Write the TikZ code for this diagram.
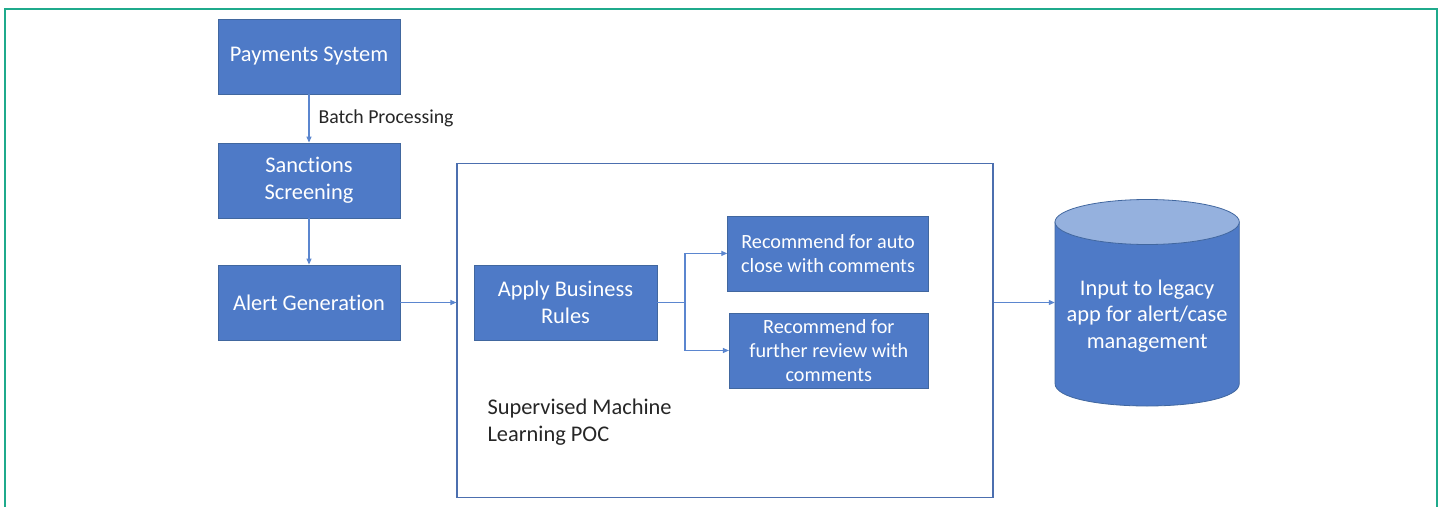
\documentclass[tikz,border=0pt]{standalone}
\usepackage{fontspec}
\setmainfont{Carlito}[Ligatures={NoCommon,NoContextual}, Contextuals=NoAlternate]
\usetikzlibrary{arrows.meta}
\definecolor{boxblue}{HTML}{4E7AC7}
\definecolor{boxedge}{HTML}{41679F}
\definecolor{toplight}{HTML}{95B1DE}
\definecolor{linkblue}{HTML}{5B86CF}
\definecolor{framegreen}{HTML}{1FAA8C}
\definecolor{pocedge}{HTML}{4C6FAF}
\definecolor{labeltext}{HTML}{262626}
\begin{document}
\begin{tikzpicture}[x=1pt,y=-1pt,
  bluebox/.style={draw=boxedge, line width=0.8pt, fill=boxblue, text=white, inner sep=0pt,
    align=center, minimum height=75pt, font=\fontsize{22.4}{27}\selectfont},
  smallbox/.style={bluebox, font=\fontsize{20.2}{24.3}\selectfont},
  link/.style={draw=linkblue, line width=1.1pt, -{Triangle[length=6pt,width=5pt]}},
  plaintext/.style={inner sep=0pt, text=labeltext},
]
\useasboundingbox (0,0) rectangle (1442,506);
% outer frame (open at the bottom)
\draw[framegreen, line width=2pt] (4.5,520) -- (4.5,8.5) -- (1437,8.5) -- (1437,520);

% POC container
\node[draw=pocedge, line width=1.2pt, minimum width=536pt, minimum height=334pt, inner sep=0pt] (poc) at (725,330.3) {};
\node[plaintext, anchor=west, align=left, font=\fontsize{22.4}{27.7}\selectfont] (poclabel) at (487.3,422) {Supervised Machine\\Learning POC};

% left column
\node[bluebox, minimum width=182pt] (pay) at (309,56.5) {\raisebox{-1.5pt}{Payments System}};
\node[bluebox, minimum width=182pt] (sanc) at (309,180.5) {Sanctions\\Screening};
\node[bluebox, minimum width=182pt] (alert) at (309,302.5) {\raisebox{-1.5pt}{Alert Generation}};

% inside POC
\node[bluebox, minimum width=183pt] (apply) at (565.5,302.8) {Apply Business\\Rules};
\node[smallbox, minimum width=200.6pt] (auto) at (828,253.4) {Recommend for auto\\close with comments};
\node[smallbox, minimum width=199pt] (further) at (828.8,350.5) {Recommend for\\further review with\\comments};

% cylinder
\fill[boxblue, draw=boxedge, line width=0.8pt] (1055,222) -- (1055,383.5) .. controls (1055,413.5) and (1239.3,413.5) .. (1239.3,383.5) -- (1239.3,222) -- cycle;
\draw[boxedge, line width=0.8pt, fill=toplight] (1147.15,222) ellipse [x radius=92.15pt, y radius=22.5pt];
\node[inner sep=0pt, minimum width=184.3pt, text=white, align=center, font=\fontsize{22.4}{26.6}\selectfont] (db) at (1147.15,316) {Input to legacy\\app for alert/case\\management};

% connectors
\draw[link] (pay) -- node[plaintext, anchor=west, xshift=9pt, font=\fontsize{19.8}{24}\selectfont] (batch) {Batch Processing} (sanc);
\draw[link] (sanc) -- (alert);
\draw[link] (alert.east) -- (poc.west |- alert.east);
\coordinate (split) at (685,302.5);
\draw[link] (apply.east |- split) -- (split) |- (auto.west);
\draw[link] (split) |- (further.west);
\draw[link] (poc.east |- split) -- (db.west |- split);
\end{tikzpicture}
\end{document}
